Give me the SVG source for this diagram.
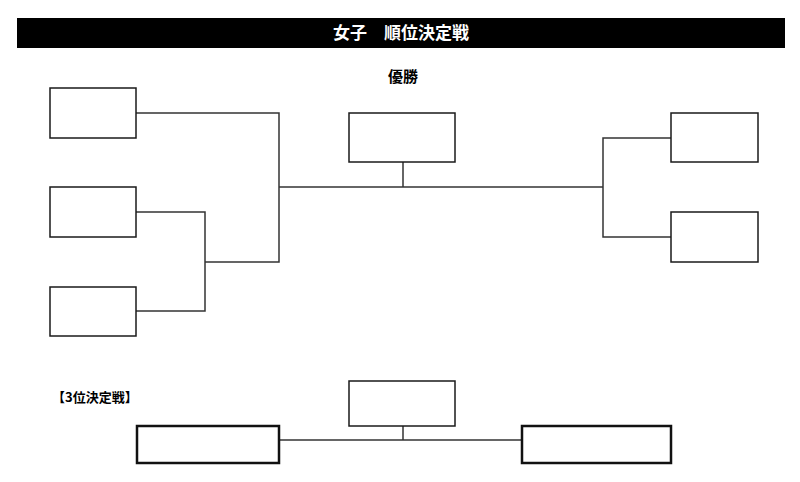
<svg xmlns="http://www.w3.org/2000/svg" width="800" height="482" viewBox="0 0 800 482">
<style>
.box{fill:#fff;stroke:#1a1a1a;stroke-width:1.5}
.tbox{fill:#fff;stroke:#111;stroke-width:2.5}
.ln{fill:none;stroke:#333;stroke-width:1.5}
.t{font-family:"Noto Sans CJK JP","Noto Sans CJK SC",sans-serif;font-weight:bold}
</style>
<rect x="0" y="0" width="800" height="482" fill="#fff"/>
<g id="header">
<rect x="17" y="18" width="768" height="30" fill="#000"/>
<text class="t" x="401" y="39" font-size="17" fill="#fff" text-anchor="middle">女子　順位決定戦</text>
</g>
<g id="label-champion"><text class="t" x="403" y="82" font-size="15" fill="#000" text-anchor="middle">優勝</text></g>
<g id="label-third"><text class="t" x="52" y="402" font-size="13" fill="#000">【3位決定戦】</text></g>
<g id="connectors">
<polyline class="ln" points="136,113 279,113 279,262 205,262"/>
<polyline class="ln" points="136,212 205,212 205,311 136,311"/>
<line class="ln" x1="279" y1="187" x2="603" y2="187"/>
<line class="ln" x1="403" y1="162" x2="403" y2="187"/>
<polyline class="ln" points="671,138 603,138 603,237 671,237"/>
<line class="ln" x1="279" y1="440" x2="522" y2="440"/>
<line class="ln" x1="403" y1="426" x2="403" y2="440"/>
</g>
<g id="L1"><rect class="box" x="50" y="88" width="86" height="50"/></g>
<g id="L2"><rect class="box" x="50" y="187" width="86" height="50"/></g>
<g id="L3"><rect class="box" x="50" y="287" width="86" height="49"/></g>
<g id="champion"><rect class="box" x="349" y="113" width="106" height="49"/></g>
<g id="R1"><rect class="box" x="671" y="113" width="87" height="49"/></g>
<g id="R2"><rect class="box" x="671" y="212" width="87" height="50"/></g>
<g id="third"><rect class="box" x="349" y="381" width="106" height="45"/></g>
<g id="T1"><rect class="tbox" x="137" y="426" width="142" height="37"/></g>
<g id="T2"><rect class="tbox" x="522" y="426" width="149" height="37"/></g>
</svg>
